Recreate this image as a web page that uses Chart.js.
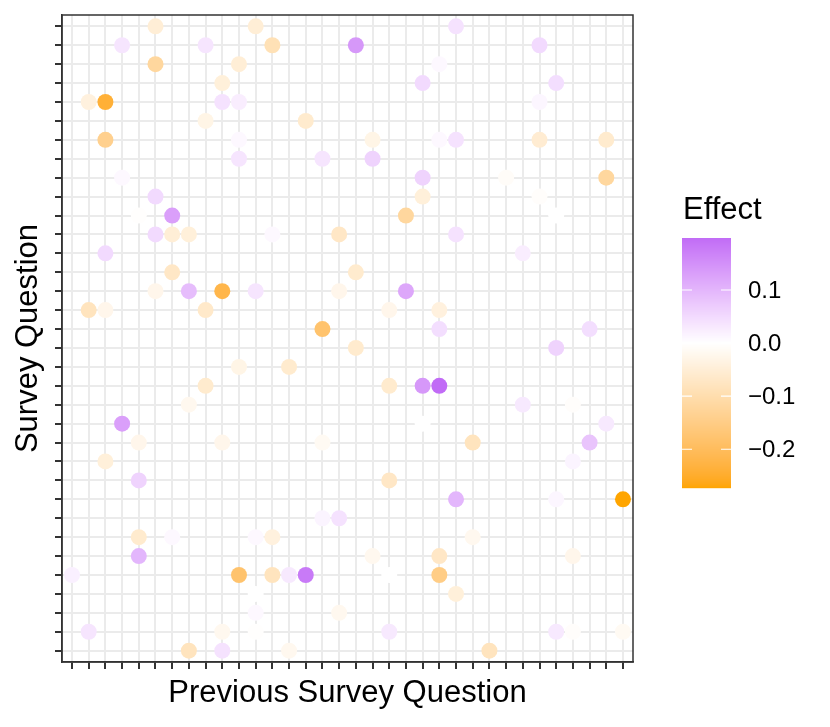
<!DOCTYPE html>
<html>
<head>
<meta charset="utf-8">
<script src="https://cdn.jsdelivr.net/npm/chart.js@4.4.0/dist/chart.umd.min.js"></script>
<style>
  html, body { margin: 0; padding: 0; background: #ffffff; }
  #wrap { width: 830px; height: 727px; }
</style>
</head>
<body>
<div id="wrap"><canvas id="effectChart"></canvas></div>
<script>
// Data: x = previous question index, y = question row (1 = top)
const prevQuestion = [
  6, 12, 24,
  4, 9, 13, 18, 29,
  6, 11, 23,
  10, 22, 30,
  2, 3, 10, 11, 29,
  9, 15,
  3, 11, 19, 23, 24, 29, 33,
  11, 16, 19,
  4, 22, 27, 33,
  6, 22, 29,
  5, 7, 21, 30,
  6, 7, 8, 13, 17, 24,
  3, 28,
  7, 18,
  6, 8, 10, 12, 17, 21,
  2, 3, 9, 20, 23,
  16, 23, 32,
  18, 30,
  11, 14,
  9, 20, 22, 23,
  8, 28, 31,
  4, 22, 33,
  5, 10, 16, 25, 32,
  3, 31,
  5, 20,
  24, 30, 34,
  16, 17,
  5, 7, 12, 13, 25,
  5, 19, 23, 31,
  1, 11, 13, 14, 15, 20, 23,
  12, 24,
  12, 17,
  2, 10, 12, 20, 30, 31, 34,
  8, 10, 14, 26
];
const question = [
  1, 1, 1,
  2, 2, 2, 2, 2,
  3, 3, 3,
  4, 4, 4,
  5, 5, 5, 5, 5,
  6, 6,
  7, 7, 7, 7, 7, 7, 7,
  8, 8, 8,
  9, 9, 9, 9,
  10, 10, 10,
  11, 11, 11, 11,
  12, 12, 12, 12, 12, 12,
  13, 13,
  14, 14,
  15, 15, 15, 15, 15, 15,
  16, 16, 16, 16, 16,
  17, 17, 17,
  18, 18,
  19, 19,
  20, 20, 20, 20,
  21, 21, 21,
  22, 22, 22,
  23, 23, 23, 23, 23,
  24, 24,
  25, 25,
  26, 26, 26,
  27, 27,
  28, 28, 28, 28, 28,
  29, 29, 29, 29,
  30, 30, 30, 30, 30, 30, 30,
  31, 31,
  32, 32,
  33, 33, 33, 33, 33, 33, 33,
  34, 34, 34, 34
];
const effect = [
  -0.05, -0.05, 0.04,
  0.035, 0.035, -0.09, 0.14, 0.05,
  -0.12, -0.05, 0.01,
  -0.045, 0.05, 0.045,
  -0.04, -0.24, 0.04, 0.025, 0.012,
  -0.03, -0.06,
  -0.14, 0.01, -0.03, 0.01, 0.04, -0.055, -0.06,
  0.035, 0.035, 0.06,
  0.01, 0.06, -0.008, -0.12,
  0.05, -0.045, -0.005,
  -0.003, 0.13, -0.12, 0.0,
  0.05, -0.05, -0.045, 0.01, -0.07, 0.04,
  0.05, 0.025,
  -0.07, -0.06,
  -0.025, 0.09, -0.22, 0.035, -0.025, 0.12,
  -0.08, -0.025, -0.065, -0.025, -0.04,
  -0.18, 0.045, 0.045,
  -0.06, 0.06,
  -0.03, -0.06,
  -0.06, -0.06, 0.14, 0.198,
  -0.02, 0.03, -0.005,
  0.13, 0.0, 0.03,
  -0.025, -0.025, -0.015, -0.08, 0.08,
  -0.045, 0.015,
  0.06, -0.07,
  0.1, 0.012, -0.273,
  0.015, 0.04,
  -0.06, 0.01, 0.01, -0.04, -0.02,
  0.1, -0.02, -0.07, -0.025,
  0.02, -0.18, -0.08, 0.03, 0.18, 0.0, -0.15,
  0.0, -0.045,
  0.01, -0.02,
  0.035, -0.02, -0.003, 0.03, 0.03, -0.005, -0.015,
  -0.08, 0.04, -0.02, -0.08
];
const nQuestions = 34;
const legendTicks = [0.1, 0.0, -0.1, -0.2];
const legendTickLabels = ['0.1', '0.0', '\u22120.1', '\u22120.2'];

// diverging colour scale (orange - white - purple), interpolated in Lab like ggplot
const LOW = '#FFA500', MID = '#FFFFFF', HIGH = '#A020F0';
const WHITE_REF = [0.95047, 1, 1.08883];
const FONT = '"Liberation Sans", Arial, sans-serif';

function toLinear(c) {
  c /= 255;
  return c <= 0.04045 ? c / 12.92 : Math.pow((c + 0.055) / 1.055, 2.4);
}
function fromLinear(c) {
  c = c <= 0.0031308 ? 12.92 * c : 1.055 * Math.pow(c, 1 / 2.4) - 0.055;
  return Math.round(Math.min(1, Math.max(0, c)) * 255);
}
function f(t) { return t > 216 / 24389 ? Math.cbrt(t) : (24389 / 27 * t + 16) / 116; }
function fInv(t) { return t * t * t > 216 / 24389 ? t * t * t : (116 * t - 16) / (24389 / 27); }

function hexToLab(hex) {
  const r = toLinear(parseInt(hex.slice(1, 3), 16));
  const g = toLinear(parseInt(hex.slice(3, 5), 16));
  const b = toLinear(parseInt(hex.slice(5, 7), 16));
  const X = (0.4124 * r + 0.3576 * g + 0.1805 * b) / WHITE_REF[0];
  const Y = (0.2126 * r + 0.7152 * g + 0.0722 * b) / WHITE_REF[1];
  const Z = (0.0193 * r + 0.1192 * g + 0.9505 * b) / WHITE_REF[2];
  return [116 * f(Y) - 16, 500 * (f(X) - f(Y)), 200 * (f(Y) - f(Z))];
}
function labToRgb(lab) {
  const fy = (lab[0] + 16) / 116;
  const X = fInv(fy + lab[1] / 500) * WHITE_REF[0];
  const Y = fInv(fy) * WHITE_REF[1];
  const Z = fInv(fy - lab[2] / 200) * WHITE_REF[2];
  const r = 3.2406 * X - 1.5372 * Y - 0.4986 * Z;
  const g = -0.9689 * X + 1.8758 * Y + 0.0415 * Z;
  const b = 0.0557 * X - 0.2040 * Y + 1.0570 * Z;
  return 'rgb(' + fromLinear(r) + ',' + fromLinear(g) + ',' + fromLinear(b) + ')';
}

const lowLab = hexToLab(LOW), midLab = hexToLab(MID), highLab = hexToLab(HIGH);
const effMin = Math.min(...effect), effMax = Math.max(...effect);
const maxAbs = Math.max(Math.abs(effMin), Math.abs(effMax));

function effectColour(v) {
  const t = v / maxAbs;
  const end = t < 0 ? lowLab : highLab;
  const k = Math.abs(t);
  return labToRgb(midLab.map((m, i) => m + (end[i] - m) * k));
}

const pointColours = effect.map(effectColour);

// panel border on all four sides
const panelBorder = {
  id: 'panelBorder',
  afterDraw(chart) {
    const { ctx, chartArea: a } = chart;
    ctx.save();
    ctx.strokeStyle = '#333333';
    ctx.lineWidth = 1.5;
    ctx.strokeRect(a.left, a.top, a.right - a.left, a.bottom - a.top);
    ctx.restore();
  }
};

// colour bar legend
const colourBar = {
  id: 'colourBar',
  afterDraw(chart) {
    const ctx = chart.ctx;
    const x = 682, top = 238, w = 49, h = 250;
    ctx.save();
    ctx.fillStyle = '#000000';
    ctx.font = '31px ' + FONT;
    ctx.textBaseline = 'alphabetic';
    ctx.fillText('Effect', 683, 219);

    for (let i = 0; i < h; i++) {
      const v = effMax - (i + 0.5) / h * (effMax - effMin);
      ctx.fillStyle = effectColour(v);
      ctx.fillRect(x, top + i, w, 1.2);
    }

    ctx.strokeStyle = '#ffffff';
    ctx.lineWidth = 1.2;
    ctx.font = '24px ' + FONT;
    ctx.textBaseline = 'middle';
    legendTicks.forEach((v, i) => {
      const y = top + (effMax - v) / (effMax - effMin) * h;
      ctx.beginPath();
      ctx.moveTo(x, y); ctx.lineTo(x + 10, y);
      ctx.moveTo(x + w - 10, y); ctx.lineTo(x + w, y);
      ctx.stroke();
      ctx.fillStyle = '#000000';
      ctx.fillText(legendTickLabels[i], 748, y + 1.5);
    });
    ctx.restore();
  }
};

const tickList = Array.from({ length: nQuestions }, (_, i) => ({ value: i + 1 }));

function axisOptions(title, reverse) {
  return {
    type: 'linear',
    min: 0.4,
    max: nQuestions + 0.6,
    reverse: reverse,
    afterBuildTicks: scale => { scale.ticks = tickList.map(t => ({ value: t.value })); },
    grid: {
      color: '#EBEBEB',
      lineWidth: 2,
      drawTicks: true,
      tickLength: 7,
      tickColor: '#333333',
      tickWidth: 2
    },
    border: { display: true, color: '#333333', width: 1.5 },
    ticks: { autoSkip: false, padding: 0, callback: () => '' },
    title: {
      display: true,
      text: title,
      color: '#000000',
      font: { family: FONT, size: 31 }
    }
  };
}

const xAxis = axisOptions('Previous Survey Question', false);
xAxis.title.padding = { top: 0, bottom: 15 };
xAxis.afterFit = scale => { scale.height = 65; };

const yAxis = axisOptions('Survey Question', true);
yAxis.title.padding = { top: 10, bottom: 0 };
yAxis.afterFit = scale => { scale.width = 62; };

new Chart(document.getElementById('effectChart').getContext('2d'), {
  type: 'scatter',
  data: {
    datasets: [{
      label: 'Effect',
      data: prevQuestion.map((x, i) => ({ x: x, y: question[i] })),
      pointRadius: 8,
      pointHoverRadius: 8,
      pointBorderWidth: 0,
      pointBackgroundColor: pointColours
    }]
  },
  options: {
    responsive: true,
    maintainAspectRatio: false,
    animation: false,
    layout: { padding: { top: 15, right: 197, bottom: 0, left: 0 } },
    plugins: {
      legend: { display: false },
      tooltip: { enabled: false }
    },
    scales: { x: xAxis, y: yAxis }
  },
  plugins: [panelBorder, colourBar]
});
</script>
</body>
</html>
